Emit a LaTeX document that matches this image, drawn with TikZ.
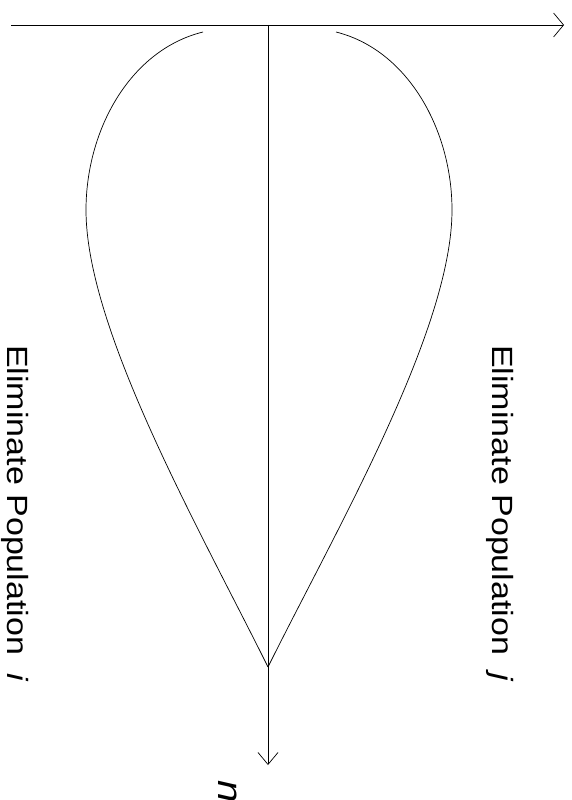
\documentclass[tikz,border=0pt]{standalone}
\usepackage{fontspec}
\setmainfont{Liberation Sans}
\usepackage{graphicx}
\usetikzlibrary{arrows.meta}
\tikzset{
  axis/.style={line width=0.7pt, draw=black},
  bound/.style={line width=0.7pt, draw=black},
  lab/.style={rotate=-90, anchor=base west, inner sep=0pt,
    font=\fontsize{34}{40}\selectfont},
}
\newcommand{\squish}[1]{\scalebox{1}[0.86]{#1}}

\begin{document}
\begin{tikzpicture}[x=1pt,y=-1pt]
  \useasboundingbox (0,0) rectangle (571,800);
  % axes
  \coordinate (o) at (268,25);
  \coordinate (west) at (11,25);
  \coordinate (east) at (564,25);
  \coordinate (south) at (268,765);
  \draw[axis, -{Straight Barb[length=10pt,width=24pt]}] (west) -- (east);
  \draw[axis, -{Straight Barb[length=12pt,width=20pt]}] (o) -- (south);
  % boundaries
  \coordinate (tip) at (268,667);
  \coordinate (ltop) at (203,32);
  \coordinate (lmid) at (86,210);
  \coordinate (rtop) at (336,32);
  \coordinate (rmid) at (452,210);
  \draw[bound] (ltop) .. controls (130,50) and (86,130) .. (lmid)
    .. controls (86,330) and (200,530) .. (tip);
  \draw[bound] (rtop) .. controls (408,50) and (452,130) .. (rmid)
    .. controls (452,330) and (336,530) .. (tip);
  % labels
  \node[lab] (elimi) at (7,345) {\squish{Eliminate Population\hspace{0.55em}\textit{i}}};
  \node[lab] (elimj) at (492,345) {\squish{Eliminate Population\hspace{0.55em}\textit{j}}};
  \node[lab, font=\fontsize{40}{46}\selectfont] (n) at (218,780) {\squish{\textit{n}}};
\end{tikzpicture}
\end{document}
